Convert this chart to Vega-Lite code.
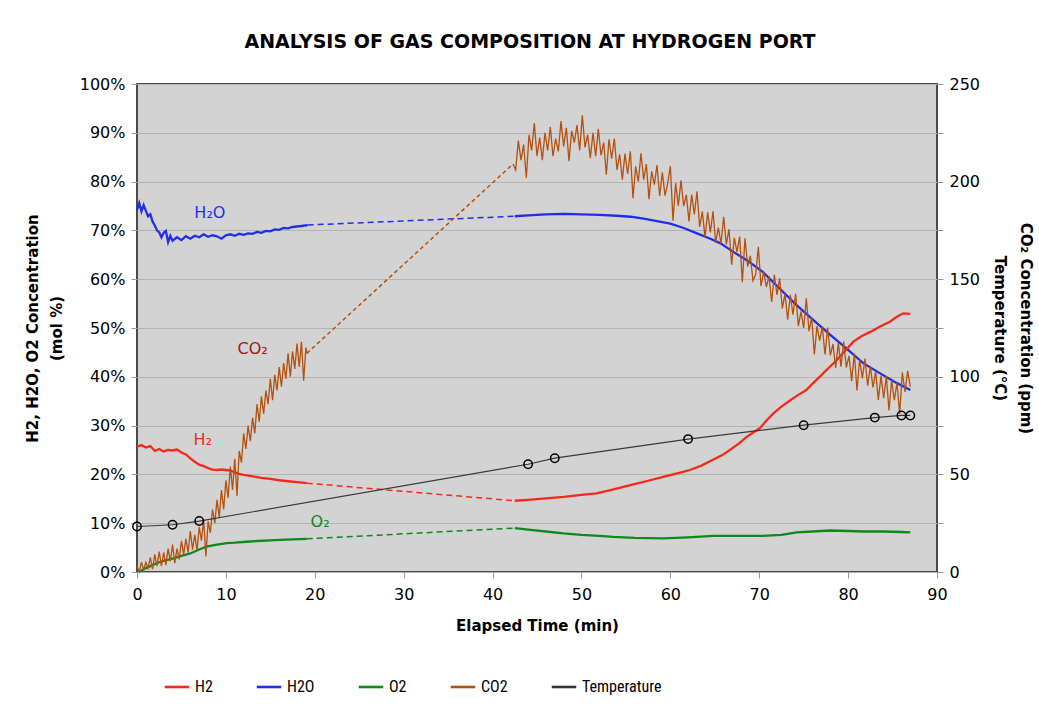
{
"$schema": "https://vega.github.io/schema/vega-lite/v6.json",
"width": 800,
"height": 488,
"autosize": {"type": "none"},
"padding": {"left": 137, "top": 84, "right": 102, "bottom": 145},
"background": "white",
"title": {"text": "ANALYSIS OF GAS COMPOSITION AT HYDROGEN PORT", "font": "DejaVu Sans", "fontSize": 19, "fontWeight": "bold", "color": "black", "anchor": "middle", "offset": 24, "dx": -7},
"config": {
  "view": {"fill": "#d3d3d3", "stroke": "#4a4a4a", "strokeWidth": 2},
  "axis": {"labelFont": "DejaVu Sans", "labelFontSize": 16, "labelColor": "black", "titleFont": "DejaVu Sans", "titleFontSize": 15, "titleFontWeight": "bold", "titleColor": "black", "domain": false, "tickColor": "#9a9a9a", "tickSize": 6, "labelPadding": 6, "labelFlush": false},
  "legend": {"labelFont": "Liberation Sans Narrow, Arial Narrow, Roboto Condensed, DejaVu Sans Condensed, Liberation Sans", "labelFontSize": 16, "labelColor": "black", "symbolType": "stroke", "symbolSize": 600, "symbolStrokeWidth": 2.6, "columns": 5, "columnPadding": 38, "labelOffset": 4}
},
"datasets": {
  "left": [
    {"s":"H2O","g":1,"t":0,"v":74.2},{"s":"H2O","g":1,"t":0.25,"v":75.6},{"s":"H2O","g":1,"t":0.5,"v":73.9},{"s":"H2O","g":1,"t":0.75,"v":75.2},{"s":"H2O","g":1,"t":1,"v":74.0},{"s":"H2O","g":1,"t":1.25,"v":72.9},{"s":"H2O","g":1,"t":1.5,"v":73.3},{"s":"H2O","g":1,"t":1.75,"v":71.8},{"s":"H2O","g":1,"t":2,"v":71.0},{"s":"H2O","g":1,"t":2.25,"v":70.0},{"s":"H2O","g":1,"t":2.5,"v":69.6},{"s":"H2O","g":1,"t":2.75,"v":68.6},{"s":"H2O","g":1,"t":3,"v":69.5},{"s":"H2O","g":1,"t":3.25,"v":69.9},{"s":"H2O","g":1,"t":3.5,"v":67.6},{"s":"H2O","g":1,"t":3.75,"v":68.9},{"s":"H2O","g":1,"t":4,"v":67.9},{"s":"H2O","g":1,"t":4.5,"v":68.6},{"s":"H2O","g":1,"t":5,"v":68.0},{"s":"H2O","g":1,"t":5.5,"v":68.8},{"s":"H2O","g":1,"t":6,"v":68.3},{"s":"H2O","g":1,"t":6.5,"v":68.9},{"s":"H2O","g":1,"t":7,"v":68.6},{"s":"H2O","g":1,"t":7.5,"v":69.2},{"s":"H2O","g":1,"t":8,"v":68.7},{"s":"H2O","g":1,"t":8.5,"v":69.0},{"s":"H2O","g":1,"t":9,"v":68.8},{"s":"H2O","g":1,"t":9.5,"v":68.3},{"s":"H2O","g":1,"t":10,"v":69.0},{"s":"H2O","g":1,"t":10.5,"v":69.2},{"s":"H2O","g":1,"t":11,"v":68.9},{"s":"H2O","g":1,"t":11.5,"v":69.3},{"s":"H2O","g":1,"t":12,"v":69.1},{"s":"H2O","g":1,"t":12.5,"v":69.4},{"s":"H2O","g":1,"t":13,"v":69.3},{"s":"H2O","g":1,"t":13.5,"v":69.7},{"s":"H2O","g":1,"t":14,"v":69.5},{"s":"H2O","g":1,"t":14.5,"v":69.9},{"s":"H2O","g":1,"t":15,"v":69.8},{"s":"H2O","g":1,"t":15.5,"v":70.2},{"s":"H2O","g":1,"t":16,"v":70.1},{"s":"H2O","g":1,"t":16.5,"v":70.5},{"s":"H2O","g":1,"t":17,"v":70.4},{"s":"H2O","g":1,"t":17.5,"v":70.7},{"s":"H2O","g":1,"t":18,"v":70.8},{"s":"H2O","g":1,"t":18.5,"v":70.9},{"s":"H2O","g":1,"t":19.2,"v":71.1},
    {"s":"H2O","g":2,"t":42.5,"v":72.9},{"s":"H2O","g":2,"t":44,"v":73.1},{"s":"H2O","g":2,"t":46,"v":73.3},{"s":"H2O","g":2,"t":48,"v":73.4},{"s":"H2O","g":2,"t":50,"v":73.3},{"s":"H2O","g":2,"t":52,"v":73.2},{"s":"H2O","g":2,"t":54,"v":73.0},{"s":"H2O","g":2,"t":55.5,"v":72.8},{"s":"H2O","g":2,"t":57,"v":72.4},{"s":"H2O","g":2,"t":58.5,"v":71.9},{"s":"H2O","g":2,"t":60,"v":71.4},{"s":"H2O","g":2,"t":61.5,"v":70.5},{"s":"H2O","g":2,"t":63,"v":69.4},{"s":"H2O","g":2,"t":64.5,"v":68.3},{"s":"H2O","g":2,"t":65.6,"v":67.4},{"s":"H2O","g":2,"t":67,"v":65.7},{"s":"H2O","g":2,"t":68.6,"v":63.9},{"s":"H2O","g":2,"t":70.4,"v":61.5},{"s":"H2O","g":2,"t":72.3,"v":58.1},{"s":"H2O","g":2,"t":74.2,"v":54.7},{"s":"H2O","g":2,"t":76.1,"v":51.6},{"s":"H2O","g":2,"t":78,"v":48.6},{"s":"H2O","g":2,"t":79.8,"v":45.8},{"s":"H2O","g":2,"t":81.7,"v":42.8},{"s":"H2O","g":2,"t":83.6,"v":40.7},{"s":"H2O","g":2,"t":85.5,"v":38.7},{"s":"H2O","g":2,"t":87,"v":37.3},
    {"s":"H2","g":1,"t":0,"v":25.7},{"s":"H2","g":1,"t":0.5,"v":26.0},{"s":"H2","g":1,"t":1,"v":25.5},{"s":"H2","g":1,"t":1.5,"v":25.8},{"s":"H2","g":1,"t":2,"v":24.8},{"s":"H2","g":1,"t":2.5,"v":25.2},{"s":"H2","g":1,"t":3,"v":24.7},{"s":"H2","g":1,"t":3.5,"v":25.0},{"s":"H2","g":1,"t":4,"v":24.9},{"s":"H2","g":1,"t":4.5,"v":25.1},{"s":"H2","g":1,"t":5,"v":24.5},{"s":"H2","g":1,"t":5.5,"v":24.1},{"s":"H2","g":1,"t":6,"v":23.3},{"s":"H2","g":1,"t":6.5,"v":22.6},{"s":"H2","g":1,"t":7,"v":22.0},{"s":"H2","g":1,"t":7.5,"v":21.7},{"s":"H2","g":1,"t":8,"v":21.3},{"s":"H2","g":1,"t":8.5,"v":21.0},{"s":"H2","g":1,"t":9,"v":20.9},{"s":"H2","g":1,"t":9.5,"v":21.0},{"s":"H2","g":1,"t":10,"v":20.9},{"s":"H2","g":1,"t":10.5,"v":20.8},{"s":"H2","g":1,"t":11,"v":20.4},{"s":"H2","g":1,"t":11.5,"v":20.1},{"s":"H2","g":1,"t":12,"v":19.9},{"s":"H2","g":1,"t":13,"v":19.6},{"s":"H2","g":1,"t":14,"v":19.3},{"s":"H2","g":1,"t":15,"v":19.1},{"s":"H2","g":1,"t":16,"v":18.8},{"s":"H2","g":1,"t":17,"v":18.6},{"s":"H2","g":1,"t":18,"v":18.4},{"s":"H2","g":1,"t":19.1,"v":18.2},
    {"s":"H2","g":2,"t":42.5,"v":14.6},{"s":"H2","g":2,"t":44,"v":14.8},{"s":"H2","g":2,"t":46,"v":15.1},{"s":"H2","g":2,"t":48,"v":15.4},{"s":"H2","g":2,"t":50,"v":15.8},{"s":"H2","g":2,"t":51.7,"v":16.1},{"s":"H2","g":2,"t":53.5,"v":16.9},{"s":"H2","g":2,"t":55.5,"v":17.8},{"s":"H2","g":2,"t":57.5,"v":18.7},{"s":"H2","g":2,"t":59.2,"v":19.5},{"s":"H2","g":2,"t":61,"v":20.3},{"s":"H2","g":2,"t":62.2,"v":20.9},{"s":"H2","g":2,"t":63.5,"v":21.8},{"s":"H2","g":2,"t":64.8,"v":23.0},{"s":"H2","g":2,"t":65.8,"v":23.9},{"s":"H2","g":2,"t":66.7,"v":25.0},{"s":"H2","g":2,"t":67.7,"v":26.3},{"s":"H2","g":2,"t":68.6,"v":27.7},{"s":"H2","g":2,"t":69.4,"v":28.7},{"s":"H2","g":2,"t":70.1,"v":29.5},{"s":"H2","g":2,"t":70.9,"v":31.2},{"s":"H2","g":2,"t":71.6,"v":32.5},{"s":"H2","g":2,"t":72.5,"v":33.9},{"s":"H2","g":2,"t":73.5,"v":35.2},{"s":"H2","g":2,"t":74.4,"v":36.3},{"s":"H2","g":2,"t":75.3,"v":37.3},{"s":"H2","g":2,"t":76,"v":38.6},{"s":"H2","g":2,"t":76.8,"v":40.0},{"s":"H2","g":2,"t":77.8,"v":41.8},{"s":"H2","g":2,"t":78.7,"v":43.4},{"s":"H2","g":2,"t":79.7,"v":45.4},{"s":"H2","g":2,"t":80.6,"v":47.2},{"s":"H2","g":2,"t":81.5,"v":48.3},{"s":"H2","g":2,"t":82.5,"v":49.2},{"s":"H2","g":2,"t":83.6,"v":50.3},{"s":"H2","g":2,"t":84.7,"v":51.3},{"s":"H2","g":2,"t":85.5,"v":52.3},{"s":"H2","g":2,"t":86.2,"v":53.0},{"s":"H2","g":2,"t":87,"v":52.9},
    {"s":"O2","g":1,"t":0.3,"v":0.1},{"s":"O2","g":1,"t":1,"v":0.8},{"s":"O2","g":1,"t":1.5,"v":1.2},{"s":"O2","g":1,"t":2.2,"v":1.8},{"s":"O2","g":1,"t":3,"v":2.3},{"s":"O2","g":1,"t":4.1,"v":2.8},{"s":"O2","g":1,"t":5,"v":3.3},{"s":"O2","g":1,"t":6,"v":3.8},{"s":"O2","g":1,"t":7,"v":4.6},{"s":"O2","g":1,"t":7.8,"v":5.2},{"s":"O2","g":1,"t":9,"v":5.6},{"s":"O2","g":1,"t":10.1,"v":5.9},{"s":"O2","g":1,"t":11,"v":6.0},{"s":"O2","g":1,"t":12.3,"v":6.2},{"s":"O2","g":1,"t":13.5,"v":6.35},{"s":"O2","g":1,"t":15,"v":6.5},{"s":"O2","g":1,"t":16.1,"v":6.6},{"s":"O2","g":1,"t":17.5,"v":6.7},{"s":"O2","g":1,"t":19.1,"v":6.8},
    {"s":"O2","g":2,"t":42.5,"v":9.0},{"s":"O2","g":2,"t":44,"v":8.7},{"s":"O2","g":2,"t":46,"v":8.3},{"s":"O2","g":2,"t":48,"v":7.9},{"s":"O2","g":2,"t":50,"v":7.6},{"s":"O2","g":2,"t":52,"v":7.4},{"s":"O2","g":2,"t":53.6,"v":7.2},{"s":"O2","g":2,"t":56,"v":7.0},{"s":"O2","g":2,"t":59.2,"v":6.9},{"s":"O2","g":2,"t":62,"v":7.1},{"s":"O2","g":2,"t":64.8,"v":7.4},{"s":"O2","g":2,"t":67,"v":7.4},{"s":"O2","g":2,"t":70.4,"v":7.4},{"s":"O2","g":2,"t":72.5,"v":7.6},{"s":"O2","g":2,"t":74.2,"v":8.1},{"s":"O2","g":2,"t":76,"v":8.3},{"s":"O2","g":2,"t":78,"v":8.5},{"s":"O2","g":2,"t":80,"v":8.4},{"s":"O2","g":2,"t":81.7,"v":8.3},{"s":"O2","g":2,"t":84,"v":8.3},{"s":"O2","g":2,"t":86,"v":8.2},{"s":"O2","g":2,"t":87,"v":8.1}
  ],
  "leftdash": [
    {"s":"H2O","t":19.2,"v":71.1},{"s":"H2O","t":42.5,"v":72.9},
    {"s":"H2","t":19.1,"v":18.2},{"s":"H2","t":42.5,"v":14.6},
    {"s":"O2","t":19.1,"v":6.8},{"s":"O2","t":42.5,"v":9.0}
  ],
  "labels": [
    {"s":"H2O","label":"H₂O","t":8.2,"v":73.6},
    {"s":"CO2","label":"CO₂","t":13,"v":45.7},
    {"s":"H2","label":"H₂","t":7.4,"v":27},
    {"s":"O2","label":"O₂","t":20.6,"v":10.2}
  ],
  "co2": [
    {"s":"CO2","g":1,"t":0,"v":3},{"s":"CO2","g":1,"t":0.25,"v":0},{"s":"CO2","g":1,"t":0.5,"v":5},{"s":"CO2","g":1,"t":0.75,"v":1},{"s":"CO2","g":1,"t":1,"v":5},{"s":"CO2","g":1,"t":1.25,"v":2},{"s":"CO2","g":1,"t":1.5,"v":7.5},{"s":"CO2","g":1,"t":1.75,"v":1.5},{"s":"CO2","g":1,"t":2,"v":9},{"s":"CO2","g":1,"t":2.25,"v":3},{"s":"CO2","g":1,"t":2.5,"v":10.5},{"s":"CO2","g":1,"t":2.75,"v":3},{"s":"CO2","g":1,"t":3,"v":10},{"s":"CO2","g":1,"t":3.25,"v":3.5},{"s":"CO2","g":1,"t":3.5,"v":12},{"s":"CO2","g":1,"t":3.75,"v":5.5},{"s":"CO2","g":1,"t":4,"v":14},{"s":"CO2","g":1,"t":4.25,"v":4.5},{"s":"CO2","g":1,"t":4.5,"v":12},{"s":"CO2","g":1,"t":4.75,"v":6.5},{"s":"CO2","g":1,"t":5,"v":16},{"s":"CO2","g":1,"t":5.25,"v":9},{"s":"CO2","g":1,"t":5.5,"v":17},{"s":"CO2","g":1,"t":5.75,"v":10},{"s":"CO2","g":1,"t":6,"v":21},{"s":"CO2","g":1,"t":6.25,"v":11.5},{"s":"CO2","g":1,"t":6.5,"v":19},{"s":"CO2","g":1,"t":6.75,"v":11},{"s":"CO2","g":1,"t":7,"v":23},{"s":"CO2","g":1,"t":7.25,"v":16},{"s":"CO2","g":1,"t":7.5,"v":27},{"s":"CO2","g":1,"t":7.75,"v":8},{"s":"CO2","g":1,"t":8,"v":26},{"s":"CO2","g":1,"t":8.25,"v":20},{"s":"CO2","g":1,"t":8.5,"v":32},{"s":"CO2","g":1,"t":8.75,"v":25},{"s":"CO2","g":1,"t":9,"v":37},{"s":"CO2","g":1,"t":9.25,"v":28},{"s":"CO2","g":1,"t":9.5,"v":42},{"s":"CO2","g":1,"t":9.75,"v":32},{"s":"CO2","g":1,"t":10,"v":47},{"s":"CO2","g":1,"t":10.25,"v":38},{"s":"CO2","g":1,"t":10.5,"v":54},{"s":"CO2","g":1,"t":10.75,"v":42},{"s":"CO2","g":1,"t":11,"v":58},{"s":"CO2","g":1,"t":11.25,"v":39},{"s":"CO2","g":1,"t":11.5,"v":62},{"s":"CO2","g":1,"t":11.75,"v":56},{"s":"CO2","g":1,"t":12,"v":71},{"s":"CO2","g":1,"t":12.25,"v":63},{"s":"CO2","g":1,"t":12.5,"v":75},{"s":"CO2","g":1,"t":12.75,"v":67},{"s":"CO2","g":1,"t":13,"v":79},{"s":"CO2","g":1,"t":13.25,"v":71},{"s":"CO2","g":1,"t":13.5,"v":86},{"s":"CO2","g":1,"t":13.75,"v":77},{"s":"CO2","g":1,"t":14,"v":90},{"s":"CO2","g":1,"t":14.25,"v":81},{"s":"CO2","g":1,"t":14.5,"v":93},{"s":"CO2","g":1,"t":14.75,"v":86},{"s":"CO2","g":1,"t":15,"v":99},{"s":"CO2","g":1,"t":15.25,"v":88},{"s":"CO2","g":1,"t":15.5,"v":101},{"s":"CO2","g":1,"t":15.75,"v":93},{"s":"CO2","g":1,"t":16,"v":105},{"s":"CO2","g":1,"t":16.25,"v":95},{"s":"CO2","g":1,"t":16.5,"v":107},{"s":"CO2","g":1,"t":16.75,"v":99},{"s":"CO2","g":1,"t":17,"v":112},{"s":"CO2","g":1,"t":17.25,"v":100},{"s":"CO2","g":1,"t":17.5,"v":113},{"s":"CO2","g":1,"t":17.75,"v":104},{"s":"CO2","g":1,"t":18,"v":117},{"s":"CO2","g":1,"t":18.25,"v":105},{"s":"CO2","g":1,"t":18.5,"v":118},{"s":"CO2","g":1,"t":18.75,"v":98},{"s":"CO2","g":1,"t":19,"v":115},{"s":"CO2","g":1,"t":19.1,"v":112},
    {"s":"CO2","g":2,"t":42.3,"v":209},{"s":"CO2","g":2,"t":42.6,"v":206},{"s":"CO2","g":2,"t":42.9,"v":221},{"s":"CO2","g":2,"t":43.2,"v":211},{"s":"CO2","g":2,"t":43.5,"v":219},{"s":"CO2","g":2,"t":43.8,"v":202},{"s":"CO2","g":2,"t":44.1,"v":224},{"s":"CO2","g":2,"t":44.4,"v":216},{"s":"CO2","g":2,"t":44.7,"v":230},{"s":"CO2","g":2,"t":45,"v":213},{"s":"CO2","g":2,"t":45.3,"v":222.5},{"s":"CO2","g":2,"t":45.6,"v":211},{"s":"CO2","g":2,"t":45.9,"v":225},{"s":"CO2","g":2,"t":46.2,"v":216},{"s":"CO2","g":2,"t":46.5,"v":228},{"s":"CO2","g":2,"t":46.8,"v":213},{"s":"CO2","g":2,"t":47.1,"v":222},{"s":"CO2","g":2,"t":47.4,"v":215.5},{"s":"CO2","g":2,"t":47.7,"v":231},{"s":"CO2","g":2,"t":48,"v":218},{"s":"CO2","g":2,"t":48.3,"v":227.5},{"s":"CO2","g":2,"t":48.6,"v":210.5},{"s":"CO2","g":2,"t":48.9,"v":226},{"s":"CO2","g":2,"t":49.2,"v":220},{"s":"CO2","g":2,"t":49.5,"v":229},{"s":"CO2","g":2,"t":49.8,"v":216},{"s":"CO2","g":2,"t":50.1,"v":234},{"s":"CO2","g":2,"t":50.4,"v":217.5},{"s":"CO2","g":2,"t":50.7,"v":224},{"s":"CO2","g":2,"t":51,"v":212},{"s":"CO2","g":2,"t":51.3,"v":225},{"s":"CO2","g":2,"t":51.6,"v":213},{"s":"CO2","g":2,"t":51.9,"v":227},{"s":"CO2","g":2,"t":52.2,"v":213.5},{"s":"CO2","g":2,"t":52.5,"v":220},{"s":"CO2","g":2,"t":52.8,"v":203.5},{"s":"CO2","g":2,"t":53.1,"v":221.7},{"s":"CO2","g":2,"t":53.4,"v":211.8},{"s":"CO2","g":2,"t":53.7,"v":222},{"s":"CO2","g":2,"t":54,"v":206},{"s":"CO2","g":2,"t":54.3,"v":214},{"s":"CO2","g":2,"t":54.6,"v":201},{"s":"CO2","g":2,"t":54.9,"v":214.3},{"s":"CO2","g":2,"t":55.2,"v":204},{"s":"CO2","g":2,"t":55.5,"v":215.5},{"s":"CO2","g":2,"t":55.8,"v":191.5},{"s":"CO2","g":2,"t":56.1,"v":207.8},{"s":"CO2","g":2,"t":56.4,"v":200},{"s":"CO2","g":2,"t":56.7,"v":214.5},{"s":"CO2","g":2,"t":57,"v":201},{"s":"CO2","g":2,"t":57.3,"v":209},{"s":"CO2","g":2,"t":57.6,"v":191},{"s":"CO2","g":2,"t":57.9,"v":205.3},{"s":"CO2","g":2,"t":58.2,"v":198.4},{"s":"CO2","g":2,"t":58.5,"v":208.5},{"s":"CO2","g":2,"t":58.8,"v":192.6},{"s":"CO2","g":2,"t":59.1,"v":204.7},{"s":"CO2","g":2,"t":59.4,"v":192.8},{"s":"CO2","g":2,"t":59.7,"v":198.9},{"s":"CO2","g":2,"t":60,"v":208},{"s":"CO2","g":2,"t":60.3,"v":180},{"s":"CO2","g":2,"t":60.6,"v":199.2},{"s":"CO2","g":2,"t":60.9,"v":187.6},{"s":"CO2","g":2,"t":61.2,"v":200.6},{"s":"CO2","g":2,"t":61.5,"v":187.4},{"s":"CO2","g":2,"t":61.8,"v":193.2},{"s":"CO2","g":2,"t":62.1,"v":179.6},{"s":"CO2","g":2,"t":62.4,"v":193.4},{"s":"CO2","g":2,"t":62.7,"v":183.2},{"s":"CO2","g":2,"t":63,"v":195},{"s":"CO2","g":2,"t":63.3,"v":176.8},{"s":"CO2","g":2,"t":63.6,"v":184.6},{"s":"CO2","g":2,"t":63.9,"v":171.4},{"s":"CO2","g":2,"t":64.2,"v":184.2},{"s":"CO2","g":2,"t":64.5,"v":174},{"s":"CO2","g":2,"t":64.8,"v":184.8},{"s":"CO2","g":2,"t":65.1,"v":168.6},{"s":"CO2","g":2,"t":65.4,"v":176.4},{"s":"CO2","g":2,"t":65.7,"v":168.2},{"s":"CO2","g":2,"t":66,"v":182},{"s":"CO2","g":2,"t":66.3,"v":167.8},{"s":"CO2","g":2,"t":66.6,"v":175.6},{"s":"CO2","g":2,"t":66.9,"v":157.4},{"s":"CO2","g":2,"t":67.2,"v":171.2},{"s":"CO2","g":2,"t":67.5,"v":164},{"s":"CO2","g":2,"t":67.8,"v":171.8},{"s":"CO2","g":2,"t":68.1,"v":148.5},{"s":"CO2","g":2,"t":68.4,"v":171},{"s":"CO2","g":2,"t":68.7,"v":156.5},{"s":"CO2","g":2,"t":69,"v":162},{"s":"CO2","g":2,"t":69.3,"v":149.2},{"s":"CO2","g":2,"t":69.6,"v":152.4},{"s":"CO2","g":2,"t":69.9,"v":166.6},{"s":"CO2","g":2,"t":70.2,"v":146.5},{"s":"CO2","g":2,"t":70.5,"v":154},{"s":"CO2","g":2,"t":70.8,"v":146},{"s":"CO2","g":2,"t":71.1,"v":151.6},{"s":"CO2","g":2,"t":71.4,"v":138.4},{"s":"CO2","g":2,"t":71.7,"v":152.2},{"s":"CO2","g":2,"t":72,"v":142},{"s":"CO2","g":2,"t":72.3,"v":150.5},{"s":"CO2","g":2,"t":72.6,"v":135},{"s":"CO2","g":2,"t":72.9,"v":142.5},{"s":"CO2","g":2,"t":73.2,"v":129.2},{"s":"CO2","g":2,"t":73.5,"v":142},{"s":"CO2","g":2,"t":73.8,"v":131.8},{"s":"CO2","g":2,"t":74.1,"v":142.5},{"s":"CO2","g":2,"t":74.4,"v":126},{"s":"CO2","g":2,"t":74.7,"v":133.5},{"s":"CO2","g":2,"t":75,"v":125},{"s":"CO2","g":2,"t":75.3,"v":140.2},{"s":"CO2","g":2,"t":75.6,"v":123.4},{"s":"CO2","g":2,"t":75.9,"v":130.6},{"s":"CO2","g":2,"t":76.2,"v":111.5},{"s":"CO2","g":2,"t":76.5,"v":126},{"s":"CO2","g":2,"t":76.8,"v":118.5},{"s":"CO2","g":2,"t":77.1,"v":125.6},{"s":"CO2","g":2,"t":77.4,"v":111.4},{"s":"CO2","g":2,"t":77.7,"v":125.2},{"s":"CO2","g":2,"t":78,"v":111},{"s":"CO2","g":2,"t":78.3,"v":116.8},{"s":"CO2","g":2,"t":78.6,"v":104.6},{"s":"CO2","g":2,"t":78.9,"v":117.4},{"s":"CO2","g":2,"t":79.2,"v":105.2},{"s":"CO2","g":2,"t":79.5,"v":118},{"s":"CO2","g":2,"t":79.8,"v":104.8},{"s":"CO2","g":2,"t":80.1,"v":110.7},{"s":"CO2","g":2,"t":80.4,"v":97.8},{"s":"CO2","g":2,"t":80.7,"v":111.9},{"s":"CO2","g":2,"t":81,"v":93},{"s":"CO2","g":2,"t":81.3,"v":109.1},{"s":"CO2","g":2,"t":81.6,"v":99.2},{"s":"CO2","g":2,"t":81.9,"v":109.3},{"s":"CO2","g":2,"t":82.2,"v":95.4},{"s":"CO2","g":2,"t":82.5,"v":105.5},{"s":"CO2","g":2,"t":82.8,"v":94.6},{"s":"CO2","g":2,"t":83.1,"v":102.8},{"s":"CO2","g":2,"t":83.4,"v":88.2},{"s":"CO2","g":2,"t":83.7,"v":100.6},{"s":"CO2","g":2,"t":84,"v":89},{"s":"CO2","g":2,"t":84.3,"v":100.4},{"s":"CO2","g":2,"t":84.6,"v":82.8},{"s":"CO2","g":2,"t":84.9,"v":98.2},{"s":"CO2","g":2,"t":85.2,"v":88},{"s":"CO2","g":2,"t":85.5,"v":97},{"s":"CO2","g":2,"t":85.8,"v":81},{"s":"CO2","g":2,"t":86.1,"v":102.3},{"s":"CO2","g":2,"t":86.4,"v":92.2},{"s":"CO2","g":2,"t":86.7,"v":103},{"s":"CO2","g":2,"t":87,"v":95}
  ],
  "co2dash": [
    {"s":"CO2","t":19.1,"v":112},{"s":"CO2","t":42.3,"v":209}
  ],
  "temp": [
    {"s":"Temperature","t":0,"v":23.3},{"s":"Temperature","t":4,"v":24.2},{"s":"Temperature","t":7,"v":26.1},{"s":"Temperature","t":44,"v":55.2},{"s":"Temperature","t":47,"v":58.3},{"s":"Temperature","t":62,"v":68.1},{"s":"Temperature","t":75,"v":75.2},{"s":"Temperature","t":83,"v":79.1},{"s":"Temperature","t":86,"v":80.2},{"s":"Temperature","t":87,"v":80.2}
  ]
},
"encoding": {
  "x": {"field": "t", "type": "quantitative", "scale": {"domain": [0, 90], "nice": false, "zero": false},
        "axis": {"values": [0,10,20,30,40,50,60,70,80,90], "grid": false, "title": "Elapsed Time (min)", "labelPadding": 8, "titlePadding": 16}}
},
"resolve": {"scale": {"y": "independent"}},
"layer": [
  {
    "encoding": {
      "y": {"field": "v", "type": "quantitative", "scale": {"domain": [0, 100], "nice": false},
            "axis": {"values": [0,10,20,30,40,50,60,70,80,90,100], "labelExpr": "datum.value + '%'", "grid": true, "gridColor": "#b3b3b3", "gridWidth": 1.2, "title": ["H2, H2O, O2 Concentration", "(mol %)"], "titlePadding": 15, "titleLineHeight": 24}}
    },
    "layer": [
      {
        "data": {"name": "left"},
        "mark": {"type": "line", "strokeWidth": 2.3},
        "encoding": {
          "color": {"field": "s", "type": "nominal", "title": null,
                    "scale": {"domain": ["H2","H2O","O2","CO2","Temperature"], "range": ["#f5281a","#1f2fe8","#0d8a1a","#b5500f","#333333"]},
                    "legend": {"orient": "none", "legendX": 26, "legendY": 589, "direction": "horizontal"}},
          "detail": {"field": "g", "type": "nominal"}
        }
      },
      {
        "data": {"name": "leftdash"},
        "mark": {"type": "line", "strokeDash": [6, 4], "strokeWidth": 1.5},
        "encoding": {
          "color": {"field": "s", "type": "nominal"}
        }
      },
      {
        "data": {"name": "labels"},
        "mark": {"type": "text", "font": "DejaVu Sans", "fontSize": 16},
        "encoding": {
          "text": {"field": "label"},
          "color": {"condition": {"test": "datum.s === 'CO2'", "value": "#9a2010"}, "field": "s", "type": "nominal"}
        }
      }
    ]
  },
  {
    "encoding": {
      "y": {"field": "v", "type": "quantitative", "scale": {"domain": [0, 250], "nice": false},
            "axis": {"orient": "right", "values": [0,25,50,75,100,125,150,175,200,225,250], "labelExpr": "datum.value % 50 === 0 ? datum.label : ''", "grid": false, "title": ["CO₂ Concentration (ppm)", "Temperature (°C)"], "titlePadding": 12, "titleLineHeight": 26}}
    },
    "layer": [
      {
        "data": {"name": "co2"},
        "mark": {"type": "line", "strokeWidth": 1.3},
        "encoding": {
          "color": {"field": "s", "type": "nominal"},
          "detail": {"field": "g", "type": "nominal"}
        }
      },
      {
        "data": {"name": "co2dash"},
        "mark": {"type": "line", "strokeDash": [4, 3], "strokeWidth": 1.5},
        "encoding": {
          "color": {"field": "s", "type": "nominal"}
        }
      },
      {
        "data": {"name": "temp"},
        "mark": {"type": "line", "color": "#3a3a3a", "strokeWidth": 1.2, "point": {"filled": false, "fill": "transparent", "stroke": "black", "size": 70, "strokeWidth": 1.5}},
        "encoding": {}
      }
    ]
  }
]
}
